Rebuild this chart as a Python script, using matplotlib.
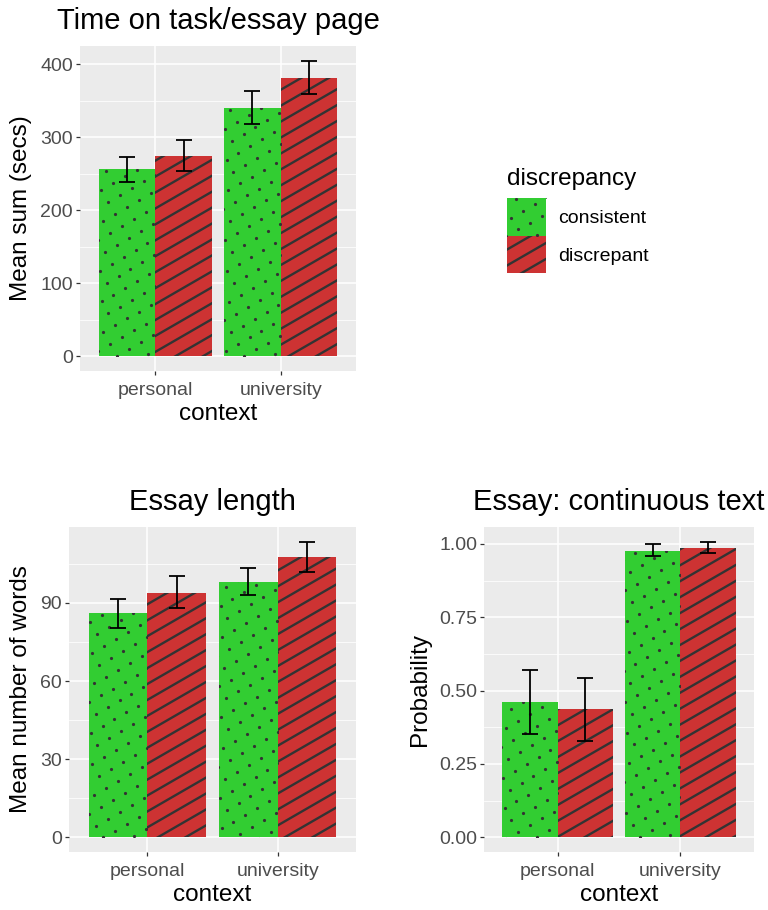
import matplotlib
matplotlib.use("Agg")
import matplotlib.pyplot as plt
import numpy as np
from matplotlib.collections import LineCollection
from matplotlib.transforms import IdentityTransform
from matplotlib.ticker import MultipleLocator

plt.rcParams['font.family'] = ['Liberation Sans', 'DejaVu Sans']

context = ['personal', 'university']
groups = ['consistent', 'discrepant']

# time on task (secs): mean, lower, upper
time_cons = [256, 340]
time_cons_lo = [239, 319]
time_cons_hi = [273, 363]
time_disc = [275, 382]
time_disc_lo = [254, 359]
time_disc_hi = [296, 405]

# essay length (words)
len_cons = [86.0, 98.2]
len_cons_lo = [80.4, 93.0]
len_cons_hi = [91.5, 103.6]
len_disc = [94.0, 107.8]
len_disc_lo = [88.0, 102.0]
len_disc_hi = [100.2, 113.5]

# continuous text probability
prob_cons = [0.460, 0.977]
prob_cons_lo = [0.353, 0.957]
prob_cons_hi = [0.569, 0.999]
prob_disc = [0.437, 0.986]
prob_disc_lo = [0.329, 0.968]
prob_disc_hi = [0.541, 1.007]

GREEN = '#32CD32'
RED = '#CD3333'
PAT = '#333333'
W, H = 768, 910
fig = plt.figure(figsize=(W / 100, H / 100), dpi=100)


def px_axes(l, t, r, b):
    return fig.add_axes([l / W, 1 - b / H, (r - l) / W, (b - t) / H])


def pattern_box(ax, patch, kind, spacing=13.8, angle=30):
    # patterns drawn in pixel space, clipped to the bar
    bb = patch.get_window_extent()
    x0, y0, x1, y1 = bb.x0, bb.y0, bb.x1, bb.y1
    cx, cy = (x0 + x1) / 2, (y0 + y1) / 2
    a = np.deg2rad(angle)
    u = np.array([np.cos(a), np.sin(a)])
    v = np.array([-np.sin(a), np.cos(a)])
    R = np.hypot(x1 - x0, y1 - y0)
    n = int(R / spacing) + 2
    if kind == 'stripe':
        segs = []
        for k in range(-n, n + 1):
            c = np.array([cx, cy]) + v * k * spacing
            segs.append([c - u * R, c + u * R])
        lc = LineCollection(segs, colors=PAT, linewidths=1.7, transform=IdentityTransform(), zorder=3)
        ax.add_collection(lc, autolim=False)
        lc.set_clip_path(patch)
    else:
        pts = []
        for i in range(-n, n + 1):
            for j in range(-n, n + 1):
                p = np.array([cx, cy]) + u * i * spacing + v * (j + 0.5) * spacing
                if x0 - 3 < p[0] < x1 + 3 and y0 - 3 < p[1] < y1 + 3:
                    pts.append(p)
        pts = np.array(pts)
        ln, = ax.plot(pts[:, 0], pts[:, 1], 'o', ms=2.3, color=PAT, mew=0,
                      transform=IdentityTransform(), zorder=3)
        ln.set_clip_path(patch)


def panel(ax, cons, cons_lo, cons_hi, disc, disc_lo, disc_hi, ymax, major, minor, fmt, ylabel, title):
    ax.set_facecolor('#EBEBEB')
    for s in ax.spines.values():
        s.set_visible(False)
    x = np.arange(1, len(context) + 1)
    ax.set_xlim(0.4, 2.6)
    top = max(max(cons_hi), max(disc_hi))
    ax.set_ylim(-0.05 * top, top * 1.05)
    ax.yaxis.set_minor_locator(MultipleLocator(minor))
    ticks = np.arange(0, ymax + major / 2, major)
    ax.set_yticks(ticks)
    ax.set_yticklabels([fmt.format(t) for t in ticks])
    ax.set_xticks(x)
    ax.set_xticklabels(context)
    ax.grid(which='major', color='white', lw=1.1)
    ax.grid(which='minor', axis='y', color='white', lw=0.55)
    ax.set_axisbelow(True)
    ax.tick_params(which='major', length=3, width=0.9, color='#333333',
                   labelcolor='#4D4D4D', labelsize=14, pad=2)
    ax.tick_params(axis='x', which='major', pad=5)
    ax.tick_params(which='minor', length=0)
    b1 = ax.bar(x - 0.225, cons, 0.45, color=GREEN, lw=0, zorder=2)
    b2 = ax.bar(x + 0.225, disc, 0.45, color=RED, lw=0, zorder=2)
    for p in b1:
        pattern_box(ax, p, 'dot')
    for p in b2:
        pattern_box(ax, p, 'stripe')
    for xs, m, lo, hi in [(x - 0.225, cons, cons_lo, cons_hi), (x + 0.225, disc, disc_lo, disc_hi)]:
        m = np.array(m)
        ax.errorbar(xs, m, yerr=[m - np.array(lo), np.array(hi) - m], fmt='none',
                    ecolor='black', elinewidth=1.3, capsize=6, capthick=1.3, zorder=4)
    ax.set_xlabel('context', fontsize=17.5, labelpad=3)
    ax.set_ylabel(ylabel, fontsize=17.5, labelpad=6)
    ax.set_title(title, fontsize=21, pad=12)


ax1 = px_axes(80, 46, 356, 371)
panel(ax1, time_cons, time_cons_lo, time_cons_hi, time_disc, time_disc_lo, time_disc_hi,
      400, 100, 50, '{:.0f}', 'Mean sum (secs)', 'Time on task/essay page')

ax2 = px_axes(69, 527, 356, 852)
panel(ax2, len_cons, len_cons_lo, len_cons_hi, len_disc, len_disc_lo, len_disc_hi,
      90, 30, 15, '{:.0f}', 'Mean number of words', 'Essay length')

ax3 = px_axes(484, 527, 754, 852)
panel(ax3, prob_cons, prob_cons_lo, prob_cons_hi, prob_disc, prob_disc_lo, prob_disc_hi,
      1.0, 0.25, 0.125, '{:.2f}', 'Probability', 'Essay: continuous text')

# legend
lg = px_axes(506, 160, 680, 274)
lg.set_xlim(0, 174)
lg.set_ylim(114, 0)
lg.axis('off')
for i, (g, col, kind) in enumerate(zip(groups, [GREEN, RED], ['dot', 'stripe'])):
    r = plt.Rectangle((0.5, 37.7 + i * 37.8), 39.5, 37.8, color=col, lw=0)
    lg.add_patch(r)
    pattern_box(lg, r, kind)
    lg.text(52, 37.7 + i * 37.8 + 21, g, fontsize=14, va='center', ha='left')
lg.text(1, 19, 'discrepancy', fontsize=17.5, va='center', ha='left')

fig.savefig('out.png', dpi=100)
